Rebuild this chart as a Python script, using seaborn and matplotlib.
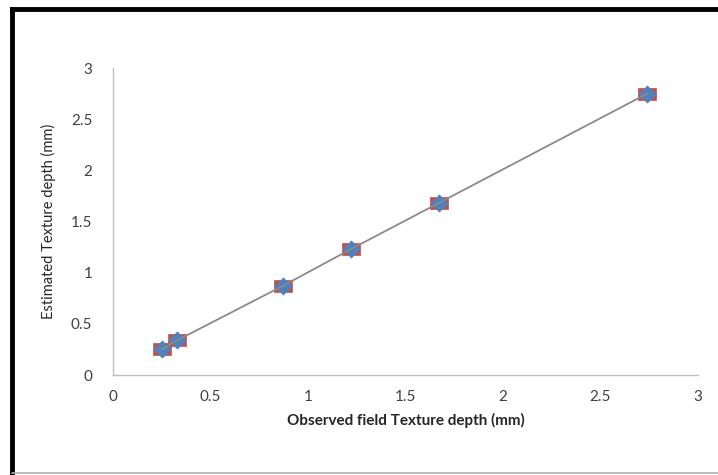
import matplotlib
matplotlib.use("Agg")
import matplotlib.pyplot as plt
import seaborn as sns
import pandas as pd
from matplotlib.lines import Line2D

observed = [0.25, 0.33, 0.87, 1.22, 1.67, 2.74]
estimated = [0.25, 0.34, 0.87, 1.23, 1.68, 2.75]
ticks = [0, 0.5, 1, 1.5, 2, 2.5, 3]
tick_labels = ["0", "0.5", "1", "1.5", "2", "2.5", "3"]

df = pd.DataFrame({"obs": observed, "est": estimated})

sns.set_style("white")
plt.rcParams["font.family"] = ["Lato", "DejaVu Sans"]

fig = plt.figure(figsize=(7.18, 4.75), dpi=100)
ax = fig.add_axes([0.1574, 0.2105, 0.8147, 0.6463])

rect = [(-1.4, -1), (1.4, -1), (1.4, 1), (-1.4, 1), (-1.4, -1)]
sns.scatterplot(data=df, x="obs", y="est", ax=ax, marker=rect, s=170,
                color="#C0504D", edgecolor="#C0504D", linewidth=0.5, zorder=3)
sns.scatterplot(data=df, x="obs", y="est", ax=ax, marker="D", s=85,
                color="#4F81BD", edgecolor="#4F81BD", linewidth=0, zorder=4)
sns.lineplot(data=df, x="obs", y="est", ax=ax, color="#8a8a8a", lw=1.3, zorder=5)

ax.set_xlim(0, 3)
ax.set_ylim(0, 3)
ax.set_xticks(ticks)
ax.set_xticklabels(tick_labels)
ax.set_yticks(ticks)
ax.set_yticklabels(tick_labels)

for side in ["top", "right"]:
    ax.spines[side].set_visible(False)
for side in ["left", "bottom"]:
    ax.spines[side].set_color("#bfbfbf")
    ax.spines[side].set_linewidth(1.0)
ax.tick_params(axis="both", which="both", direction="out", length=5, width=1.0,
               color="#bfbfbf", labelsize=11, labelcolor="#404040", pad=6)
ax.tick_params(axis="y", pad=10)

ax.set_xlabel("Observed field Texture depth (mm)", fontsize=11, fontweight="bold",
              color="#262626", labelpad=6)
ax.set_ylabel("Estimated Texture depth (mm)", fontsize=10.5, color="#262626", labelpad=11)

# outer frame
fig.add_artist(Line2D([0.0167, 0.0167], [0.0, 0.981], transform=fig.transFigure,
                      color="black", lw=3.5, solid_capstyle="projecting"))
fig.add_artist(Line2D([0.0167, 1.0], [0.981, 0.981], transform=fig.transFigure,
                      color="black", lw=3.5, solid_capstyle="projecting"))
fig.add_artist(Line2D([0.0167, 1.0], [0.004, 0.004], transform=fig.transFigure,
                      color="#b0b0b0", lw=1.2))

fig.savefig("out.png", dpi=100)
